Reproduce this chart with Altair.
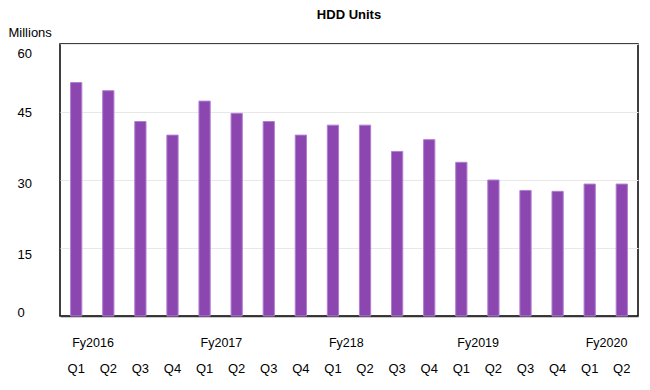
import altair as alt
import pandas as pd

years = ["2016"] * 4 + ["2017"] * 4 + ["2018"] * 4 + ["2019"] * 4 + ["2020"] * 2
quarters = ["Q1", "Q2", "Q3", "Q4"] * 4 + ["Q1", "Q2"]
units = [51.5, 49.7, 42.9, 39.9, 47.4, 44.7, 42.9, 39.9,
         42.1, 42.1, 36.3, 38.9, 33.9, 30.0, 27.7, 27.5, 29.1, 29.1]
year_labels = {"2016": "Fy2016", "2017": "Fy2017", "2018": "Fy218",
               "2019": "Fy2019", "2020": "Fy2020"}
y_ticks = [0, 15, 30, 45, 60]

keys = [y + q for y, q in zip(years, quarters)]
df = pd.DataFrame({"key": keys, "year": years, "q": quarters, "units": units})
df["ylabel"] = [year_labels[y] if q == "Q1" else "" for y, q in zip(years, quarters)]

FONT = "Liberation Sans"

x_enc = alt.X(
    "key:N", sort=keys, title=None,
    scale=alt.Scale(paddingInner=0.65, paddingOuter=0.33),
    axis=alt.Axis(labelExpr="slice(datum.value, 4)", labelAngle=0, ticks=False,
                  labelPadding=52, labelBaseline="middle", labelFontSize=13,
                  labelFont=FONT, labelColor="#000", domainColor="#333",
                  domainWidth=1.5, grid=False),
)

bars = alt.Chart(df).mark_bar(color="#8C46B0", stroke="#B17ED0", strokeWidth=1).encode(
    x=x_enc,
    y=alt.Y("units:Q", scale=alt.Scale(domain=[0, 60]),
            axis=alt.Axis(values=y_ticks, ticks=False, domain=False,
                          labelAlign="left", labelPadding=43, labelFontSize=13,
                          labelFont=FONT, labelColor="#000",
                          labelOffset={"expr": "datum.value == 60 ? 9 : datum.value == 15 ? 6 : datum.value == 30 ? 3 : datum.value == 0 ? -4 : 0"},
                          gridColor="#e8e8e8", title="Millions",
                          titleAngle=0, titleX=-52, titleY=-12,
                          titleAlign="left", titleBaseline="middle",
                          titleFont=FONT, titleFontSize=13, titleFontWeight="normal",
                          titleColor="#000")),
)

year_text = alt.Chart(df).mark_text(
    align="left", baseline="middle", dx=-4, font=FONT, fontSize=12.5, color="#000"
).encode(
    x=alt.X("key:N", sort=keys),
    y=alt.value(299),
    text="ylabel:N",
)

chart = alt.layer(bars, year_text).properties(
    width=578, height=272,
    autosize=alt.AutoSizeParams(type="none"),
    padding={"left": 52, "top": 36, "right": 4, "bottom": 66},
    title=alt.Title("HDD Units", font=FONT, fontSize=13, fontWeight="bold",
                    color="#000", offset=4),
).configure_view(stroke="#000", strokeWidth=1.5)

chart.save("out.html", embed_options={"renderer": "svg", "actions": False})
